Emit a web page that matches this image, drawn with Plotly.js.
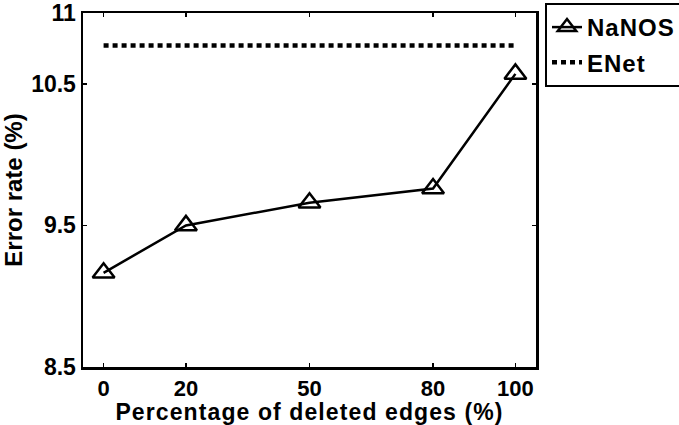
<!DOCTYPE html>
<html>
<head>
<meta charset="utf-8">
<script src="https://cdn.plot.ly/plotly-3.0.1.min.js"></script>
<style>
html,body{margin:0;padding:0;background:#fff;}
#chart{width:679px;height:425px;}
.xtitle{letter-spacing:1.1px;}
.legendtext{letter-spacing:1px;}
</style>
</head>
<body>
<div id="chart"></div>
<script>
var deletedEdges = [0, 20, 50, 80, 100];
var nanosError = [9.165, 9.5, 9.66, 9.76, 10.57];
var enetError = [10.77, 10.77, 10.77, 10.77, 10.77];
var yTickVals = [8.5, 9.5, 10.5, 11];
var yTickText = ['8.5', '9.5', '10.5', '11'];
var xTickVals = [0, 20, 50, 80, 100];

var fontFam = '"Liberation Sans", Arial, sans-serif';
var traces = [
  {
    x: deletedEdges, y: nanosError, name: 'NaNOS', type: 'scatter', mode: 'lines+markers',
    legendgroup: 'a',
    line: {color: '#000', width: 2.5},
    marker: {symbol: 'triangle-up-open', size: 19, color: '#000', line: {width: 2.5, color: '#000'}}
  },
  {
    x: deletedEdges, y: enetError, name: 'ENet', type: 'scatter', mode: 'lines',
    legendgroup: 'b',
    line: {color: '#000', width: 4.5, dash: '5px,4px'}
  }
];
var tf = {family: fontFam, size: 22, color: '#000', weight: 'bold'};
var layout = {
  width: 679, height: 425,
  margin: {l: 83, r: 143, t: 13, b: 58, pad: 0},
  paper_bgcolor: '#fff', plot_bgcolor: '#fff',
  font: tf,
  showlegend: true,
  legend: {
    xref: 'container', yref: 'container',
    x: 545 / 679, y: 1 - 3 / 425, xanchor: 'left', yanchor: 'top',
    bordercolor: '#000', borderwidth: 2, bgcolor: '#fff',
    font: {family: fontFam, size: 24, color: '#000', weight: 'bold'},
    traceorder: 'grouped', tracegroupgap: 1, itemwidth: 30
  },
  xaxis: {
    range: [-5, 105], tickmode: 'array', tickvals: xTickVals,
    ticks: 'inside', ticklen: 4, tickwidth: 1.5, tickcolor: '#000',
    showline: true, linewidth: 2.5, linecolor: '#000', mirror: 'ticks',
    showgrid: false, zeroline: false, automargin: false,
    ticklabeloverflow: 'allow',
    tickfont: tf,
    title: {text: 'Percentage of deleted edges (%)', standoff: 2, font: {family: fontFam, size: 23, color: '#000', weight: 'bold'}}
  },
  yaxis: {
    range: [8.5, 11], tickmode: 'array', tickvals: yTickVals, ticktext: yTickText,
    ticks: 'inside', ticklen: 4, tickwidth: 1.5, tickcolor: '#000',
    showline: true, linewidth: 2.5, linecolor: '#000', mirror: 'ticks',
    showgrid: false, zeroline: false, automargin: false,
    ticklabeloverflow: 'allow',
    tickfont: {family: fontFam, size: 23, color: '#000', weight: 'bold'},
    title: {text: 'Error rate (%)', standoff: 8, font: {family: fontFam, size: 24, color: '#000', weight: 'bold'}}
  }
};
Plotly.newPlot('chart', traces, layout, {displayModeBar: false, staticPlot: true});
</script>
</body>
</html>
